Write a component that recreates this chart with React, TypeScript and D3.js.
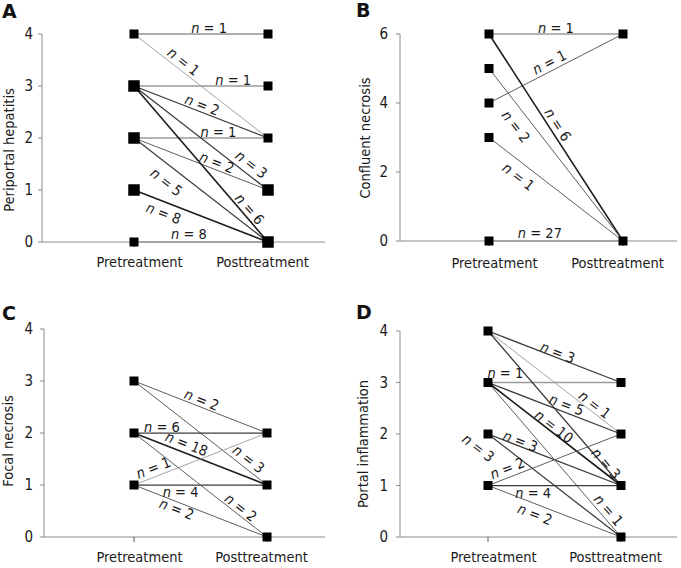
import React from "react";
import * as d3 from "d3";

// ---------- DATA ----------
const categories = ["Pretreatment", "Posttreatment"];
const panelLetters = ["A", "B", "C", "D"];
const axisTitles = ["Periportal hepatitis", "Confluent necrosis", "Focal necrosis", "Portal inflammation"];
const yMax = [4, 6, 4, 4];
const yTicksA = [0, 1, 2, 3, 4];
const yTicksB = [0, 2, 4, 6];
const yTicksC = [0, 1, 2, 3, 4];
const yTicksD = [0, 1, 2, 3, 4];

// links: [pretreatment score, posttreatment score, n]
const linksA = [
  [4, 4, 1], [4, 2, 1], [3, 3, 1], [3, 2, 2], [2, 2, 1], [3, 1, 3],
  [2, 1, 2], [2, 0, 5], [3, 0, 6], [1, 0, 8], [0, 0, 8],
];
const linksB = [
  [6, 6, 1], [4, 6, 1], [6, 0, 6], [5, 0, 2], [3, 0, 1], [0, 0, 27],
];
const linksC = [
  [3, 2, 2], [3, 1, 3], [2, 2, 6], [2, 1, 18], [1, 2, 1], [1, 1, 4], [1, 0, 2], [2, 0, 2],
];
const linksD = [
  [4, 3, 3], [3, 3, 1], [4, 2, 1], [3, 2, 5], [3, 1, 10], [4, 1, 3], [3, 0, 1],
  [2, 1, 3], [2, 0, 3], [1, 2, 2], [1, 1, 4], [1, 0, 2],
];

// ---------- STYLE / PLACEMENT ----------
// label placement along each link: [fraction along line, perpendicular offset px]
const placeA = [
  [0.56, 6], [0.33, 8.5], [0.74, 6], [0.49, 7], [0.63, 6], [0.83, 10],
  [0.6, 7], [0.31, -15], [0.82, 7.5], [0.25, -11], [0.41, 8],
];
const placeB = [[0.5, 6], [0.48, 8.5], [0.46, 8.5], [0.285, -14.5], [0.28, -13], [0.38, 8]];
const placeC = [[0.49, 7], [0.82, 9], [0.21, 6], [0.37, 9], [0.17, 9], [0.35, -7], [0.34, -7], [0.77, 7]];
const placeD = [
  [0.51, 5], [0.13, 9.5], [0.77, 7], [0.57, 7.5], [0.47, 5.5], [0.87, 3],
  [0.86, 8], [0.23, 5], [0.005, -17], [0.17, 9], [0.34, -7.5], [0.38, -10],
];
// tones: k very dark, d dark, m medium, l light, h gray
const tonesA = ["m", "l", "h", "d", "h", "d", "m", "d", "k", "k", "h"];
const tonesB = ["h", "m", "k", "m", "m", "h"];
const tonesC = ["m", "m", "d", "k", "l", "d", "m", "m"];
const tonesD = ["d", "h", "l", "d", "k", "d", "m", "d", "d", "m", "d", "m"];
const toneStyle: Record<string, { c: string; w: number }> = {
  k: { c: "#1e1e1e", w: 1.6 },
  d: { c: "#3a3a3a", w: 1.25 },
  m: { c: "#5e5e5e", w: 1.0 },
  l: { c: "#9a9a9a", w: 0.9 },
  h: { c: "#9a9a9a", w: 1.4 },
};

const layouts = [
  { ax: 42, top: 34, bottom: 242, right: 325, pre: 134, post: 268, tickEnd: 33, catY: 267, letter: [2, 18], title: [9, 150], big: true },
  { ax: 400, top: 34, bottom: 241, right: 677, pre: 489, post: 623, tickEnd: 388, catY: 268, letter: [356, 17], title: [365, 138], big: false },
  { ax: 44, top: 329, bottom: 537, right: 325, pre: 134, post: 267, tickEnd: 33, catY: 562, letter: [2, 320], title: [8, 441], big: false },
  { ax: 400, top: 331, bottom: 537, right: 677, pre: 488, post: 621, tickEnd: 388, catY: 562, letter: [356, 319], title: [363, 444], big: false },
];
const bigMarkersA = [["pre", 3], ["pre", 2], ["pre", 1], ["post", 1], ["post", 0]];

const FONT = "'DejaVu Sans Condensed', 'DejaVu Sans', sans-serif";
const AXIS = "#8c8c8c";
const TEXT = "#1a1a1a";

function Panel({ idx, links, place, tones, ticks }: any) {
  const L = layouts[idx];
  const y = d3.scaleLinear().domain([0, yMax[idx]]).range([L.bottom, L.top]);
  const x = d3.scalePoint<string>().domain(categories).range([L.pre, L.post]).padding(0);
  const xp = x(categories[0])!;
  const xq = x(categories[1])!;

  const markers: { side: string; v: number }[] = [];
  const seen = new Set<string>();
  links.forEach((l: number[]) => {
    [["pre", l[0]], ["post", l[1]]].forEach(([s, v]: any) => {
      const k = s + v;
      if (!seen.has(k)) { seen.add(k); markers.push({ side: s, v }); }
    });
  });

  return (
    <g>
      <text x={L.letter[0]} y={L.letter[1]} fontFamily="'DejaVu Sans', sans-serif" fontWeight="bold" fontSize={19} fill="#111">
        {panelLetters[idx]}
      </text>
      <text transform={`translate(${L.title[0]},${L.title[1]}) rotate(-90)`} textAnchor="middle" dominantBaseline="central"
        fontFamily={FONT} fontSize={14.5} fill={TEXT}>{axisTitles[idx]}</text>
      <line x1={L.ax} x2={L.ax} y1={y(yMax[idx])} y2={y(0)} stroke={AXIS} strokeWidth={1} />
      {ticks.map((t: number) => (
        <g key={t}>
          <line x1={L.ax - 4} x2={L.ax} y1={y(t)} y2={y(t)} stroke={AXIS} />
          <text x={L.tickEnd} y={y(t)} textAnchor="end" dominantBaseline="central" fontFamily={FONT} fontSize={15} fill={TEXT}>{t}</text>
        </g>
      ))}
      <line x1={L.ax} x2={L.right} y1={y(0)} y2={y(0)} stroke={AXIS} strokeWidth={1} />
      {categories.map((c, i) => (
        <g key={c}>
          <line x1={x(c)} x2={x(c)} y1={y(0)} y2={y(0) + 5} stroke="#555" />
          <text x={x(c)! + (i === 0 ? 5.5 : -5.5)} y={L.catY} textAnchor="middle" fontFamily={FONT} fontSize={14.5} fill={TEXT}>{c}</text>
        </g>
      ))}
      {links.map((l: number[], i: number) => {
        const st = toneStyle[tones[i]];
        return <line key={"l" + i} x1={xp} y1={y(l[0])} x2={xq} y2={y(l[1])} stroke={st.c} strokeWidth={st.w} />;
      })}
      {markers.map((m, i) => {
        const big = L.big && bigMarkersA.some((b) => b[0] === m.side && b[1] === m.v);
        const s = big ? 11.5 : 9;
        const cx = m.side === "pre" ? xp : xq;
        return <rect key={"m" + i} x={cx - s / 2} y={y(m.v) - s / 2} width={s} height={s} fill="#000" />;
      })}
      {links.map((l: number[], i: number) => {
        const x1 = xp, y1 = y(l[0]), x2 = xq, y2 = y(l[1]);
        const dx = x2 - x1, dy = y2 - y1;
        const len = Math.hypot(dx, dy);
        const ux = dx / len, uy = dy / len;
        const [t, off] = place[i];
        const cx = x1 + dx * t + uy * off;
        const cy = y1 + dy * t - ux * off;
        const ang = (Math.atan2(dy, dx) * 180) / Math.PI;
        return (
          <text key={"t" + i} transform={`translate(${cx},${cy}) rotate(${ang})`} textAnchor="middle" dominantBaseline="central"
            fontFamily={FONT} fontSize={14.5} fill={TEXT}>
            <tspan fontStyle="italic">n</tspan>
            <tspan>{` = ${l[2]}`}</tspan>
          </text>
        );
      })}
    </g>
  );
}

export default function App() {
  return (
    <svg width={681} height={568} style={{ display: "block", position: "absolute", left: 0, top: 0, background: "#fff" }}>
      <rect width={681} height={568} fill="#fff" />
      <Panel idx={0} links={linksA} place={placeA} tones={tonesA} ticks={yTicksA} />
      <Panel idx={1} links={linksB} place={placeB} tones={tonesB} ticks={yTicksB} />
      <Panel idx={2} links={linksC} place={placeC} tones={tonesC} ticks={yTicksC} />
      <Panel idx={3} links={linksD} place={placeD} tones={tonesD} ticks={yTicksD} />
    </svg>
  );
}
